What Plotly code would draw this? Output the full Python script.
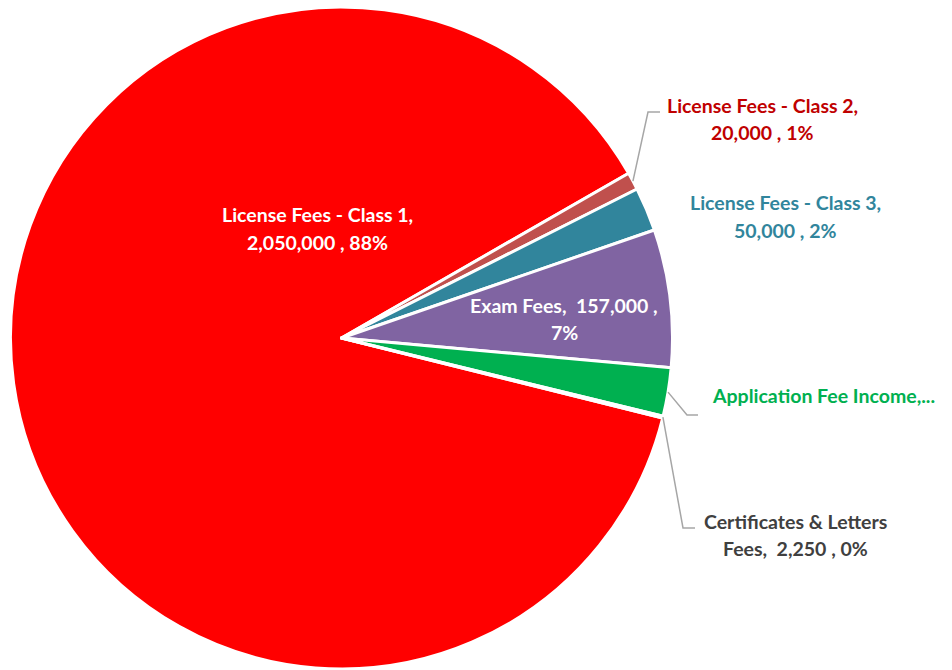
import math
import plotly.graph_objects as go

labels = ["License Fees - Class 1", "License Fees - Class 2", "License Fees - Class 3",
          "Exam Fees", "Application Fee Income", "Certificates & Letters Fees"]
values = [2050000, 20000, 50000, 157000, 55000, 2250]
colors = ["#FF0000", "#C0504D", "#31859C", "#8064A2", "#00B050", "#7F7F7F"]
label_colors = ["#FFFFFF", "#C00000", "#31859C", "#FFFFFF", "#00B050", "#404040"]
label_lines = [
    ["License Fees - Class 1,", "2,050,000 , 88%"],
    ["License Fees - Class 2,", "20,000 , 1%"],
    ["License Fees - Class 3,", "50,000 , 2%"],
    ["Exam Fees,  157,000 ,", "7%"],
    ["Application Fee Income,..."],
    ["Certificates & Letters", "Fees,  2,250 , 0%"],
]

W, H = 952, 670
CX, CY, R = 341.5, 338, 331
ROT = 104
FONT = "Lato, Carlito, Calibri, sans-serif"
FS = 19.5
LINE_H = 27

fig = go.Figure(go.Pie(
    labels=labels, values=values, sort=False, direction="clockwise", rotation=ROT,
    marker=dict(colors=colors, line=dict(color="white", width=3)),
    textinfo="none", hoverinfo="label+value+percent", showlegend=False,
    domain=dict(x=[(CX - R) / W, (CX + R) / W], y=[(H - CY - R) / H, (H - CY + R) / H]),
))

total = sum(values)

def edge_point(i, frac_in_slice=0.5, rr=1.0):
    cum = sum(values[:i]) / total
    f = cum + frac_in_slice * values[i] / total
    ang = math.radians(90 - (ROT + 360 * f))
    return CX + rr * R * math.cos(ang), CY - rr * R * math.sin(ang)

def px2paper(x, y):
    return x / W, 1 - y / H

# label positions: (x, y of first line, anchor)
pos = {
    0: (317, 215, "center"),
    1: (762, 105, "center"),
    2: (785, 203, "center"),
    3: (564, 305, "center"),
    4: (710, 395, "left"),
    5: (795, 521, "center"),
}
for i, (x, y, al) in pos.items():
    for k, line in enumerate(label_lines[i]):
        px, py = px2paper(x, y + k * LINE_H)
        fig.add_annotation(x=px, y=py, xref="paper", yref="paper", text="<b>" + line + "</b>",
                           showarrow=False, xanchor=al, yanchor="middle", align="center",
                           font=dict(family=FONT, size=FS, color=label_colors[i]))

# leader lines: from slice edge to elbow then horizontal
leaders = {
    1: [(648, 112), (660, 112)],
    4: [(687, 415), (698, 415)],
    5: [(683, 528), (695, 528)],
}
for i, pts in leaders.items():
    ex, ey = edge_point(i, 0.5, 1.0)
    allp = [(ex, ey)] + pts
    path = "M " + " L ".join(f"{px2paper(x, y)[0]},{px2paper(x, y)[1]}" for x, y in allp)
    fig.add_shape(type="path", path=path, xref="paper", yref="paper",
                  line=dict(color="#A6A6A6", width=1.5))

fig.update_layout(width=W, height=H, margin=dict(l=0, r=0, t=0, b=0),
                  paper_bgcolor="white", plot_bgcolor="white")
fig.write_html("out.html")
